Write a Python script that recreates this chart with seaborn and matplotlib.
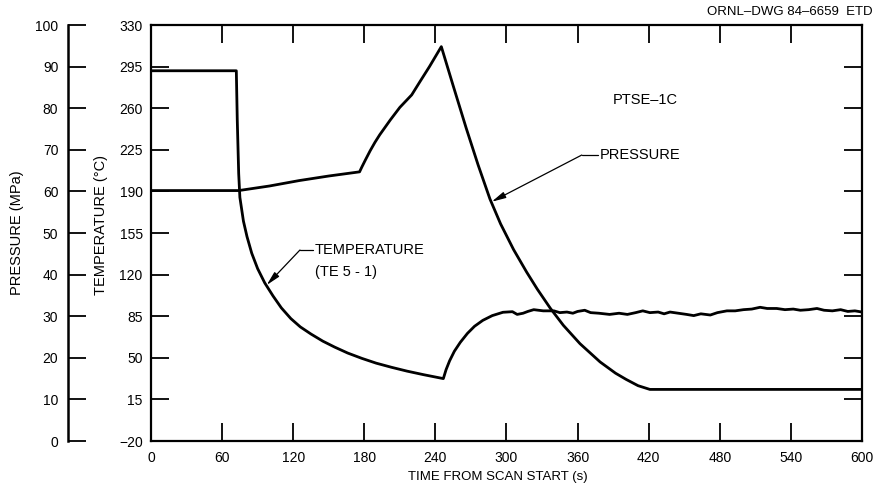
import matplotlib
matplotlib.use("Agg")
import matplotlib.pyplot as plt
import seaborn as sns
import pandas as pd

# Pressure history (MPa)
time_p = [0, 74, 100, 125, 150, 176, 178, 181, 185, 189, 193, 202, 210, 220, 227, 235, 245,
          255, 266, 276, 286, 295, 306, 317, 326, 337, 348, 362, 379, 392, 401, 411, 421, 600]
pressure = [60.2, 60.2, 61.3, 62.6, 63.7, 64.7, 65.9, 67.6, 69.8, 71.8, 73.6, 77.2, 80.2, 83.2,
            86.4, 90.0, 94.8,
            85.4, 75.2, 66.4, 58.2, 52.2, 46.0, 40.6, 36.5, 31.9, 27.8, 23.4, 19.0, 16.3, 14.8,
            13.3, 12.4, 12.4]

# Temperature history, thermocouple TE 5-1 (deg C)
time_t = [0, 72, 72.8, 74, 75, 78, 81, 85, 90, 96, 103, 110, 118, 126, 135, 145, 155, 166,
          178, 190, 203, 216, 230, 246.7, 249, 252, 256, 261, 267, 273, 280, 288, 297,
          305, 309, 314, 318, 323, 331, 340, 345, 351, 356, 360, 366, 371, 378, 387, 395,
          402, 409, 415, 421, 428, 433, 438, 445, 452, 458, 464, 472, 478, 486, 493, 500,
          507, 514, 520, 528, 535, 542, 548, 555, 562, 568, 575, 582, 588, 594, 600]
temperature = [291.5, 291.5, 250, 205, 185, 165, 152, 138, 125, 113, 102, 92, 83, 76, 70, 64,
               59, 54, 49.5, 45.5, 42, 38.8, 35.8, 32.5, 40, 47.5, 55.5, 63, 70.5, 76.5, 81.5,
               85.5, 88.3,
               88.8, 86.5, 87.5, 89, 90.5, 89.5, 89.5, 88, 88.5, 87.5, 89, 90, 88, 87.5, 86.5,
               87.5, 86.5, 88, 89.5, 88, 88.5, 87, 88.5, 87.5, 86.5, 85.5, 87, 86, 88, 89.5,
               89.5, 90.5, 91, 92.5, 91.5, 91.5, 90.5, 91, 90, 90.5, 91.5, 90, 89.5, 90.5, 89,
               89.5, 88.5]

time_ticks = [0, 60, 120, 180, 240, 300, 360, 420, 480, 540, 600]
temp_ticks = [-20, 15, 50, 85, 120, 155, 190, 225, 260, 295, 330]
temp_tick_labels = ["\u221220", "15", "50", "85", "120", "155", "190", "225", "260", "295", "330"]
pressure_ticks = [0, 10, 20, 30, 40, 50, 60, 70, 80, 90, 100]

sns.set_theme(style="ticks")
plt.rcParams["font.family"] = ["Liberation Sans", "DejaVu Sans"]
plt.rcParams.update({"text.color": "black", "axes.labelcolor": "black",
                     "xtick.color": "black", "ytick.color": "black",
                     "axes.edgecolor": "black"})

W, H = 881, 494
fig = plt.figure(figsize=(W / 100, H / 100), dpi=100)
ax = fig.add_axes([151 / W, 53 / H, 711 / W, 416 / H])
axp = ax.twinx()

df_t = pd.DataFrame({"time": time_t, "temp": temperature})
df_p = pd.DataFrame({"time": time_p, "pres": pressure})

sns.lineplot(data=df_t, x="time", y="temp", ax=ax, color="black", lw=2.0,
             sort=False, estimator=None)
sns.lineplot(data=df_p, x="time", y="pres", ax=axp, color="black", lw=2.0,
             sort=False, estimator=None)

# Main (temperature) axes
ax.set_xlim(0, 600)
ax.set_ylim(-20, 330)
ax.set_xticks(time_ticks)
ax.set_yticks(temp_ticks)
ax.set_yticklabels(temp_tick_labels)
for s in ax.spines.values():
    s.set_linewidth(1.6)
    s.set_color("black")
ax.tick_params(axis="both", direction="in", length=13, width=1.3, top=True, right=True,
               labelsize=10, colors="black")
ax.tick_params(axis="x", pad=7)
ax.tick_params(axis="y", pad=6)
ax.set_xlabel("TIME FROM SCAN START (s)", fontsize=9.5)
ax.xaxis.set_label_coords(0.488, -0.072)
ax.set_ylabel("TEMPERATURE (\u00b0C)", fontsize=10.5)
ax.yaxis.set_label_coords(-0.0605, 0.52)

# Offset pressure axis on the far left
axp.set_ylim(0, 100)
axp.set_yticks(pressure_ticks)
axp.yaxis.tick_left()
axp.yaxis.set_label_position("left")
for name in ("right", "top", "bottom"):
    axp.spines[name].set_visible(False)
axp.spines["left"].set_visible(True)
axp.spines["left"].set_position(("axes", -83 / 711))
axp.spines["left"].set_linewidth(1.8)
axp.spines["left"].set_color("black")
axp.tick_params(axis="y", direction="in", length=13, width=1.3, labelsize=10, pad=7,
                colors="black")
axp.set_ylabel("PRESSURE (MPa)", fontsize=10.5)
axp.yaxis.set_label_coords(-0.1786, 0.5)

# Callouts
arrow = dict(arrowstyle="-|>,head_length=0.7,head_width=0.16", color="black", lw=0.9,
             shrinkA=0, shrinkB=0)
ax.annotate("", xy=(287.5, 181.3), xytext=(363.5, 220.6), arrowprops=arrow)
ax.plot([363.5, 377], [220.6, 220.6], color="black", lw=0.9)
ax.text(379, 220.6, "PRESSURE", fontsize=10.5, ha="left", va="center")

ax.annotate("", xy=(97.6, 111.2), xytext=(125.7, 140.7), arrowprops=arrow)
ax.plot([125.7, 136.5], [140.7, 140.7], color="black", lw=0.9)
ax.text(138.4, 140.7, "TEMPERATURE", fontsize=10.5, ha="left", va="center")
ax.text(138.4, 122.4, "(TE 5 - 1)", fontsize=10.5, ha="left", va="center")

ax.text(390, 267, "PTSE\u20131C", fontsize=10.5, ha="left", va="center")

fig.text(873 / W, 1 - 12 / H, "ORNL\u2013DWG 84\u20136659  ETD", fontsize=9.5,
         ha="right", va="center")

fig.savefig("out.png", dpi=100, facecolor="white")
